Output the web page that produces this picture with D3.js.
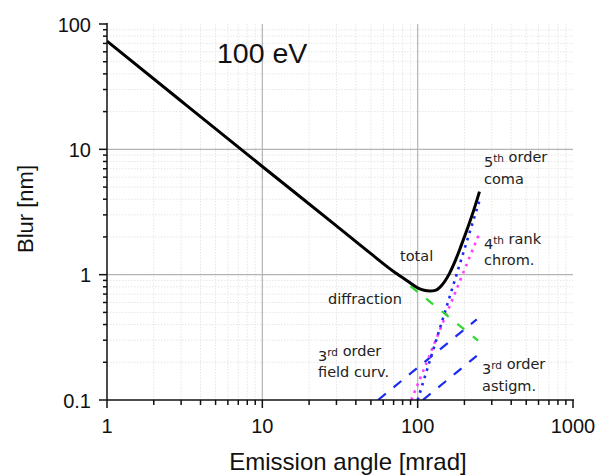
<!DOCTYPE html>
<html>
<head>
<meta charset="utf-8">
<script src="https://cdn.jsdelivr.net/npm/d3@7"></script>
<style>
  html, body { margin: 0; padding: 0; background: #fff; }
  svg { display: block; }
  .tick-label { font-family: "Liberation Sans", Arial, sans-serif; font-size: 20px; fill: #111; }
  .axis-title { font-family: "Liberation Sans", Arial, sans-serif; fill: #111; }
  .note { font-family: "DejaVu Sans", "Lucida Grande", sans-serif; font-size: 14.5px; fill: #222; }
</style>
</head>
<body>
<svg id="chart" width="611" height="476"></svg>
<script>
// Axis ticks
const xMajorTicks = [1, 10, 100, 1000];
const xTickLabels = ["1", "10", "100", "1000"];
const yMajorTicks = [0.1, 1, 10, 100];
const yTickLabels = ["0.1", "1", "10", "100"];

// Blur contributions [emission angle mrad, blur nm]
const totalBlur = [
  [1, 73], [3, 24.3], [10, 7.3], [30, 2.45], [50, 1.47], [70, 1.06], [85, 0.9],
  [100, 0.785], [110, 0.75], [120, 0.74], [130, 0.75], [140, 0.8], [150, 0.89],
  [160, 1.02], [175, 1.3], [190, 1.69], [210, 2.37], [230, 3.29], [250, 4.6]
];
const diffraction = [[90, 0.81], [245, 0.298]];
const coma5 = [[100, 0.1], [250, 3.9]];
const chrom4 = [[91, 0.1], [250, 2.15]];
const fieldCurv3 = [[55.6, 0.1], [240, 0.44]];
const astigm3 = [[108, 0.1], [240, 0.225]];

const svg = d3.select("#chart");
const x = d3.scaleLog().domain([1, 1000]).range([107, 573]);
const y = d3.scaleLog().domain([0.1, 100]).range([400, 24]);

// minor tick positions: 2..9 within each decade
const minorOf = (lo, hi) => {
  const out = [];
  for (let d = lo; d < hi; d *= 10) for (let k = 2; k <= 9; k++) out.push(d * k);
  return out;
};
const xMinor = minorOf(1, 1000);
const yMinor = minorOf(0.1, 100);

// grid
const grid = svg.append("g");
grid.selectAll(".gxm").data(xMinor).join("line")
  .attr("x1", d => x(d)).attr("x2", d => x(d)).attr("y1", y(100)).attr("y2", y(0.1))
  .attr("stroke", "#e6e6e6").attr("stroke-width", 1).attr("stroke-dasharray", "1.5,1.5");
grid.selectAll(".gym").data(yMinor).join("line")
  .attr("y1", d => y(d)).attr("y2", d => y(d)).attr("x1", x(1)).attr("x2", x(1000))
  .attr("stroke", "#e6e6e6").attr("stroke-width", 1).attr("stroke-dasharray", "1.5,1.5");
grid.selectAll(".gxM").data([10, 100]).join("line")
  .attr("x1", d => x(d)).attr("x2", d => x(d)).attr("y1", y(100)).attr("y2", y(0.1))
  .attr("stroke", "#b4b4b4").attr("stroke-width", 1.2);
grid.selectAll(".gyM").data([1, 10]).join("line")
  .attr("y1", d => y(d)).attr("y2", d => y(d)).attr("x1", x(1)).attr("x2", x(1000))
  .attr("stroke", "#b4b4b4").attr("stroke-width", 1.2);

// clip to plot area
svg.append("clipPath").attr("id", "plot")
  .append("rect").attr("x", x(1)).attr("y", y(100))
  .attr("width", x(1000) - x(1)).attr("height", y(0.1) - y(100));

const line = d3.line().x(d => x(d[0])).y(d => y(d[1]));
const plot = svg.append("g").attr("clip-path", "url(#plot)");

plot.append("path").datum(fieldCurv3).attr("d", line)
  .attr("fill", "none").attr("stroke", "#1a2cf0").attr("stroke-width", 2.2)
  .attr("stroke-dasharray", "10,10");
plot.append("path").datum(astigm3).attr("d", line)
  .attr("fill", "none").attr("stroke", "#1a2cf0").attr("stroke-width", 2.2)
  .attr("stroke-dasharray", "10,10");
plot.append("path").datum(chrom4).attr("d", line)
  .attr("fill", "none").attr("stroke", "#ff3cff").attr("stroke-width", 2.6)
  .attr("stroke-dasharray", "2.6,5");
plot.append("path").datum(coma5).attr("d", line)
  .attr("fill", "none").attr("stroke", "#1a2cf0").attr("stroke-width", 2.6)
  .attr("stroke-dasharray", "2.6,5");
plot.append("path").datum(diffraction).attr("d", line)
  .attr("fill", "none").attr("stroke", "#2fd82f").attr("stroke-width", 2.2)
  .attr("stroke-dasharray", "9,11");

const smooth = d3.line().x(d => x(d[0])).y(d => y(d[1])).curve(d3.curveMonotoneX);
plot.append("path").datum(totalBlur).attr("d", smooth)
  .attr("fill", "none").attr("stroke", "#000").attr("stroke-width", 3)
  .attr("stroke-linejoin", "round");

// axes
const axes = svg.append("g").attr("stroke", "#111").attr("stroke-width", 1.5);
axes.append("line").attr("x1", x(1)).attr("x2", x(1)).attr("y1", y(100) - 1).attr("y2", y(0.1));
axes.append("line").attr("x1", x(1)).attr("x2", x(1000) + 1).attr("y1", y(0.1)).attr("y2", y(0.1));
axes.selectAll(".ty").data(yMinor).join("line")
  .attr("x1", x(1) - 4).attr("x2", x(1)).attr("y1", d => y(d)).attr("y2", d => y(d));
axes.selectAll(".tyM").data(yMajorTicks).join("line")
  .attr("x1", x(1) - 8).attr("x2", x(1)).attr("y1", d => y(d)).attr("y2", d => y(d));
axes.selectAll(".tx").data(xMinor).join("line")
  .attr("y1", y(0.1)).attr("y2", y(0.1) + 5).attr("x1", d => x(d)).attr("x2", d => x(d));
axes.selectAll(".txM").data(xMajorTicks).join("line")
  .attr("y1", y(0.1)).attr("y2", y(0.1) + 8).attr("x1", d => x(d)).attr("x2", d => x(d));

// tick labels
svg.selectAll(".xl").data(xMajorTicks).join("text").attr("class", "tick-label")
  .attr("x", d => x(d)).attr("y", 433).attr("text-anchor", "middle")
  .text((d, i) => xTickLabels[i]);
svg.selectAll(".yl").data(yMajorTicks).join("text").attr("class", "tick-label")
  .attr("x", 91).attr("y", d => y(d) + 7.5).attr("text-anchor", "end")
  .text((d, i) => yTickLabels[i]);

// axis titles
svg.append("text").attr("class", "axis-title").attr("font-size", 24)
  .attr("x", 348).attr("y", 470).attr("text-anchor", "middle")
  .text("Emission angle [mrad]");
svg.append("text").attr("class", "axis-title").attr("font-size", 22)
  .attr("transform", "translate(33,209) rotate(-90)").attr("text-anchor", "middle")
  .text("Blur [nm]");
svg.append("text").attr("class", "axis-title").attr("font-size", 28.5)
  .attr("x", 217).attr("y", 63).text("100 eV");

// curve annotations
function note(px, py, parts) {
  const t = svg.append("text").attr("class", "note").attr("x", px).attr("y", py);
  parts.forEach(p => {
    if (p.sup) {
      t.append("tspan").attr("font-size", 10.5).attr("dy", -5.5).text(p.t);
      t.append("tspan").attr("dy", 5.5).text("");
    } else {
      t.append("tspan").text(p.t);
    }
  });
}
note(484, 167, [{t: "5"}, {t: "th", sup: true}, {t: " order"}]);
note(484, 184, [{t: "coma"}]);
note(484, 249, [{t: "4"}, {t: "th", sup: true}, {t: " rank"}]);
note(484, 265, [{t: "chrom."}]);
note(400, 261, [{t: "total"}]);
note(328, 304, [{t: "diffraction"}]);
note(318, 361, [{t: "3"}, {t: "rd", sup: true}, {t: " order"}]);
note(318, 377, [{t: "field curv."}]);
note(482, 374, [{t: "3"}, {t: "rd", sup: true}, {t: " order"}]);
note(482, 391, [{t: "astigm."}]);
</script>
</body>
</html>
